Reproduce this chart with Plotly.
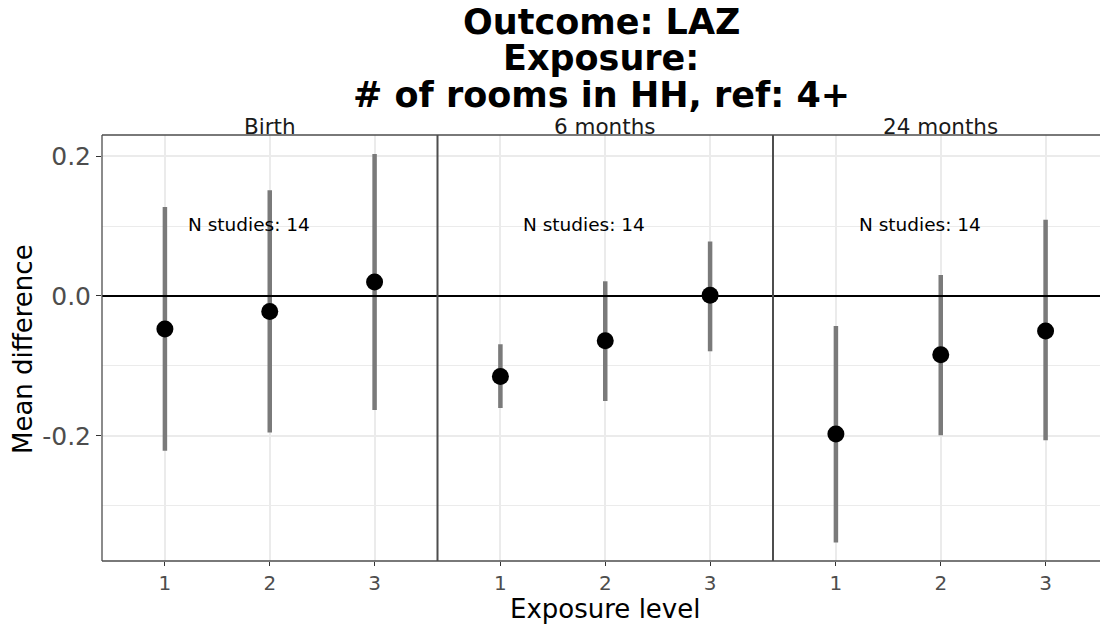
import plotly.graph_objects as go

# Data: mean difference in LAZ by exposure level, per age panel
panels = ["Birth", "6 months", "24 months"]
levels = [1, 2, 3]
estimate = {
    "Birth":     [-0.047, -0.022, 0.020],
    "6 months":  [-0.115, -0.064, 0.001],
    "24 months": [-0.197, -0.084, -0.050],
}
lower = {
    "Birth":     [-0.221, -0.195, -0.163],
    "6 months":  [-0.160, -0.150, -0.079],
    "24 months": [-0.352, -0.199, -0.206],
}
upper = {
    "Birth":     [0.127, 0.151, 0.203],
    "6 months":  [-0.069, 0.021, 0.078],
    "24 months": [-0.043, 0.030, 0.109],
}
n_studies = [14, 14, 14]
title_lines = ["Outcome: LAZ", "Exposure:", "# of rooms in HH, ref: 4+"]
y_tickvals = [-0.2, 0.0, 0.2]
y_ticktext = ["-0.2", "0.0", "0.2"]

# Layout geometry (pixels)
W, H = 1100, 626
ML, MR, MT, MB = 102, 0, 135, 65
PW = W - ML - MR
PH = H - MT - MB
panel_px = 335.5          # width of one full panel
x_lo, x_hi = 0.4, 3.6     # discrete-axis range per panel
px_per_unit = panel_px / (x_hi - x_lo)
y_range = [-0.3786, 0.23]

FONT = "DejaVu Sans"
GRID = "#ebebeb"
BORDER = "#4d4d4d"
BAR = "#7a7a7a"

fig = go.Figure()

for i, p in enumerate(panels):
    xa = "x" if i == 0 else f"x{i+1}"
    est = estimate[p]
    fig.add_trace(go.Scatter(
        x=levels, y=est, xaxis=xa, yaxis="y",
        mode="markers",
        marker=dict(color="black", size=17, line=dict(width=0)),
        error_y=dict(
            type="data", symmetric=False,
            array=[u - e for u, e in zip(upper[p], est)],
            arrayminus=[e - l for e, l in zip(est, lower[p])],
            color=BAR, thickness=4.5, width=0,
        ),
        showlegend=False, hoverinfo="skip",
    ))

layout_axes = {}
for i, p in enumerate(panels):
    left_px = i * panel_px
    right_px = min((i + 1) * panel_px, PW)
    d0, d1 = left_px / PW, right_px / PW
    rng_hi = x_lo + (right_px - left_px) / px_per_unit
    key = "xaxis" if i == 0 else f"xaxis{i+1}"
    layout_axes[key] = dict(
        domain=[d0, d1], range=[x_lo, rng_hi], anchor="y",
        tickvals=levels, ticktext=[str(v) for v in levels],
        showgrid=True, gridcolor=GRID, gridwidth=1.5,
        zeroline=False, showline=False,
        ticks="outside", ticklen=4, tickwidth=1.2, tickcolor="#333333",
        tickfont=dict(family=FONT, size=20, color="#4d4d4d"),
        fixedrange=True,
    )

fig.update_layout(
    width=W, height=H,
    margin=dict(l=ML, r=MR, t=MT, b=MB, pad=0),
    paper_bgcolor="white", plot_bgcolor="white",
    font=dict(family=FONT, color="black"),
    yaxis=dict(
        range=y_range, anchor="x",
        tickvals=y_tickvals, ticktext=y_ticktext,
        showgrid=True, gridcolor=GRID, gridwidth=1.5,
        minor=dict(dtick=0.1, tick0=0, showgrid=True, gridcolor=GRID, gridwidth=1, ticks=""),
        zeroline=False, showline=False,
        ticks="outside", ticklen=5, tickwidth=1.2, tickcolor="#333333",
        tickfont=dict(family=FONT, size=25, color="#4d4d4d"),
        fixedrange=True,
    ),
    **layout_axes,
)

shapes = []
# zero reference line in every panel
for i in range(len(panels)):
    xr = "x domain" if i == 0 else f"x{i+1} domain"
    shapes.append(dict(type="line", xref=xr, yref="y", x0=0, x1=1, y0=0, y1=0,
                       line=dict(color="black", width=2), layer="above"))
# panel borders: top, bottom, left edge and separators
shapes.append(dict(type="line", xref="paper", yref="paper", x0=0, x1=1, y0=1, y1=1,
                   line=dict(color=BORDER, width=1.3)))
shapes.append(dict(type="line", xref="paper", yref="paper", x0=0, x1=1, y0=0, y1=0,
                   line=dict(color=BORDER, width=1.3)))
shapes.append(dict(type="line", xref="paper", yref="paper", x0=0, x1=0, y0=0, y1=1,
                   line=dict(color=BORDER, width=1.3)))
for i in range(1, len(panels)):
    xs = i * panel_px / PW
    shapes.append(dict(type="line", xref="paper", yref="paper", x0=xs, x1=xs, y0=0, y1=1,
                       line=dict(color=BORDER, width=2)))
fig.update_layout(shapes=shapes)


def py(ypx):
    """Convert a pixel row to paper coordinates."""
    return (H - MB - ypx) / PH


def px(xpx):
    return (xpx - ML) / PW


annotations = []
# study counts
for i, p in enumerate(panels):
    xa = "x" if i == 0 else f"x{i+1}"
    annotations.append(dict(xref=xa, yref="y", x=1.8, y=0.102,
                            text=f"N studies: {n_studies[i]}", showarrow=False,
                            font=dict(family=FONT, size=18.5, color="black")))
# strip labels
for i, p in enumerate(panels):
    cx = ML + (i + 0.5) * panel_px
    annotations.append(dict(xref="paper", yref="paper", x=px(cx), y=py(126),
                            text=p, showarrow=False, xanchor="center", yanchor="middle",
                            font=dict(family=FONT, size=21.5, color="#1a1a1a")))
# title lines
for k, line in enumerate(title_lines):
    annotations.append(dict(xref="paper", yref="paper", x=0.5, y=py(22 + 36.5 * k),
                            text=f"<b>{line}</b>", showarrow=False,
                            xanchor="center", yanchor="middle",
                            font=dict(family=FONT, size=35, color="black")))
# axis titles
annotations.append(dict(xref="paper", yref="paper", x=px(23), y=py(349),
                        text="Mean difference", textangle=-90, showarrow=False,
                        xanchor="center", yanchor="middle",
                        font=dict(family=FONT, size=26, color="black")))
annotations.append(dict(xref="paper", yref="paper", x=px(ML + 1.5 * panel_px), y=py(609),
                        text="Exposure level", showarrow=False,
                        xanchor="center", yanchor="middle",
                        font=dict(family=FONT, size=26, color="black")))
fig.update_layout(annotations=annotations)

fig.write_html("out.html")
